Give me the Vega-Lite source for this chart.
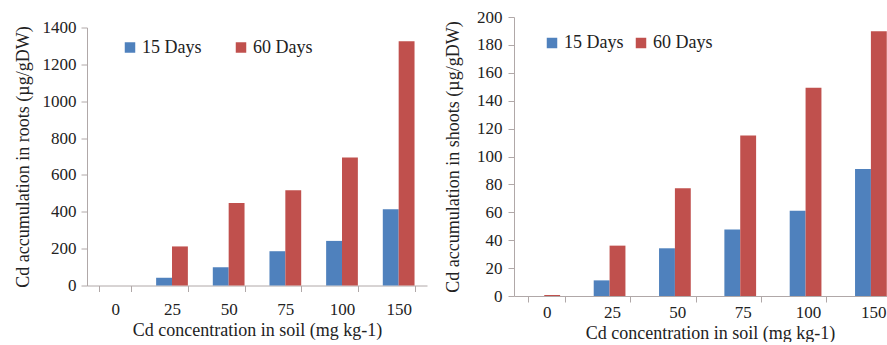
{
  "$schema": "https://vega.github.io/schema/vega-lite/v6.json",
  "padding": {"left": 13, "top": 8, "right": 0, "bottom": 0},
  "background": "white",
  "config": {
    "font": "Liberation Serif, Times New Roman, DejaVu Serif, serif",
    "view": {"stroke": null},
    "axis": {
      "labelFont": "Liberation Serif, Times New Roman, DejaVu Serif, serif",
      "titleFont": "Liberation Serif, Times New Roman, DejaVu Serif, serif",
      "labelFontSize": 17,
      "titleFontSize": 18,
      "titleFontWeight": "normal",
      "labelColor": "#222222",
      "titleColor": "#222222",
      "domainColor": "#b0a8a8",
      "tickColor": "#b0a8a8",
      "tickSize": 6,
      "grid": false
    },
    "legend": {
      "labelFont": "Liberation Serif, Times New Roman, DejaVu Serif, serif",
      "labelFontSize": 18,
      "labelColor": "#222222",
      "symbolType": "square",
      "symbolSize": 110,
      "symbolStrokeWidth": 0
    },
    "concat": {"spacing": 87}
  },
  "datasets": {
    "roots": [
      {"conc": "0", "period": "15 Days", "value": 0},
      {"conc": "0", "period": "60 Days", "value": 0},
      {"conc": "25", "period": "15 Days", "value": 42},
      {"conc": "25", "period": "60 Days", "value": 212},
      {"conc": "50", "period": "15 Days", "value": 99},
      {"conc": "50", "period": "60 Days", "value": 447},
      {"conc": "75", "period": "15 Days", "value": 186},
      {"conc": "75", "period": "60 Days", "value": 517},
      {"conc": "100", "period": "15 Days", "value": 242},
      {"conc": "100", "period": "60 Days", "value": 694},
      {"conc": "150", "period": "15 Days", "value": 414},
      {"conc": "150", "period": "60 Days", "value": 1326}
    ],
    "shoots": [
      {"conc": "0", "period": "15 Days", "value": 0},
      {"conc": "0", "period": "60 Days", "value": 0.7},
      {"conc": "25", "period": "15 Days", "value": 11.2},
      {"conc": "25", "period": "60 Days", "value": 36.1},
      {"conc": "50", "period": "15 Days", "value": 34.2},
      {"conc": "50", "period": "60 Days", "value": 77.3},
      {"conc": "75", "period": "15 Days", "value": 47.6},
      {"conc": "75", "period": "60 Days", "value": 115.1},
      {"conc": "100", "period": "15 Days", "value": 61.2},
      {"conc": "100", "period": "60 Days", "value": 149.3},
      {"conc": "150", "period": "15 Days", "value": 91.1},
      {"conc": "150", "period": "60 Days", "value": 189.7}
    ]
  },
  "center": true,
  "bounds": "flush",
  "resolve": {"legend": {"color": "independent"}, "scale": {"color": "independent", "y": "independent", "x": "independent"}},
  "hconcat": [
    {
      "width": 340,
      "height": 258,
      "data": {"name": "roots"},
      "mark": {"type": "bar"},
      "encoding": {
        "x": {
          "field": "conc", "type": "nominal", "sort": null,
          "scale": {"paddingInner": 0.44, "paddingOuter": 0.22},
          "axis": {"title": "Cd concentration in soil (mg kg-1)", "labelAngle": 0, "tickBand": "extent", "labelPadding": 10, "titlePadding": 4}
        },
        "xOffset": {"field": "period", "type": "nominal"},
        "y": {
          "field": "value", "type": "quantitative",
          "scale": {"domain": [0, 1400]},
          "axis": {"title": "Cd accumulation in roots (µg/gDW)", "values": [0, 200, 400, 600, 800, 1000, 1200, 1400], "format": "d", "labelPadding": 5, "titlePadding": 10}
        },
        "color": {
          "field": "period", "type": "nominal",
          "scale": {"domain": ["15 Days", "60 Days"], "range": ["#4F81BD", "#C0504D"]},
          "legend": {"title": null, "orient": "none", "direction": "horizontal", "legendX": 34, "legendY": 11, "columnPadding": 30, "labelOffset": 3}
        }
      }
    },
    {
      "width": 392,
      "height": 279,
      "data": {"name": "shoots"},
      "mark": {"type": "bar"},
      "encoding": {
        "x": {
          "field": "conc", "type": "nominal", "sort": null,
          "scale": {"paddingInner": 0.44, "paddingOuter": 0.22},
          "axis": {"title": "Cd concentration in soil (mg kg-1)", "labelAngle": 0, "tickBand": "extent", "labelPadding": 2, "titlePadding": 4}
        },
        "xOffset": {"field": "period", "type": "nominal"},
        "y": {
          "field": "value", "type": "quantitative",
          "scale": {"domain": [0, 200]},
          "axis": {"title": "Cd accumulation in shoots (µg/gDW)", "values": [0, 20, 40, 60, 80, 100, 120, 140, 160, 180, 200], "format": "d", "labelPadding": 6, "titlePadding": 14}
        },
        "color": {
          "field": "period", "type": "nominal",
          "scale": {"domain": ["15 Days", "60 Days"], "range": ["#4F81BD", "#C0504D"]},
          "legend": {"title": null, "orient": "none", "direction": "horizontal", "legendX": 29, "legendY": 17, "columnPadding": 8, "labelOffset": 3}
        }
      }
    }
  ]
}
